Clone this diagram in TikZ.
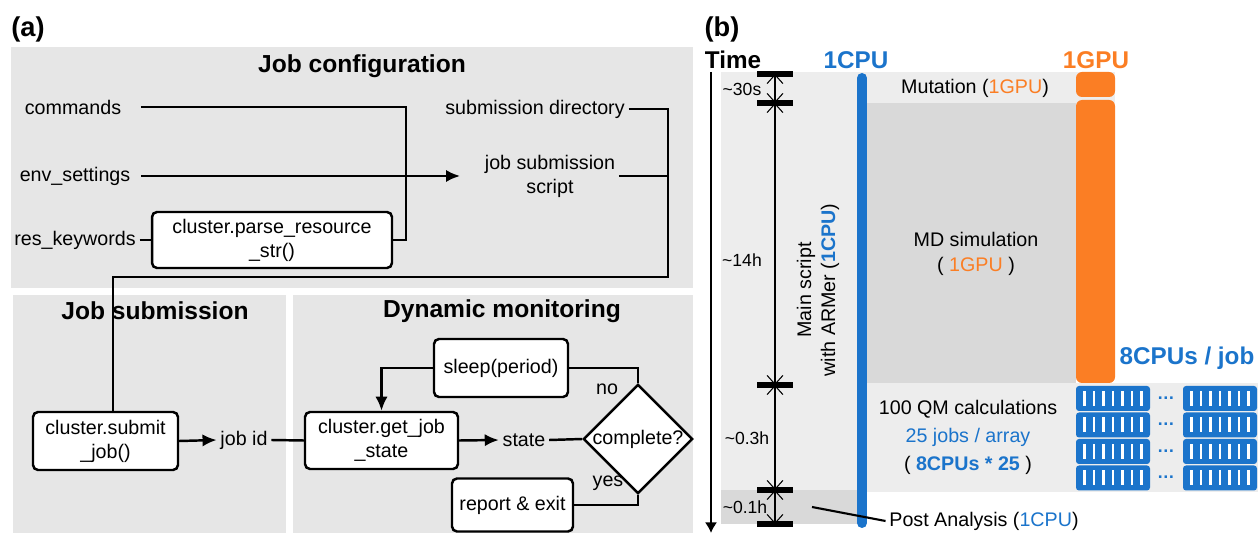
\documentclass[tikz,border=0pt]{standalone}
\usepackage{fontspec}
\setmainfont{Liberation Sans}
\usepackage{xcolor}
\usetikzlibrary{shapes.geometric,arrows.meta,positioning}

\definecolor{cpublue}{HTML}{1B74CB}
\definecolor{gpuorange}{HTML}{FB7E24}
\definecolor{panelgray}{HTML}{E6E6E6}
\definecolor{lightgray}{HTML}{EDEDED}
\definecolor{darkgray}{HTML}{D9D9D9}

\begin{document}
\begin{tikzpicture}[x=0.02cm, y=-0.02cm,
    lbl/.style={font=\fontsize{11.2}{13.6}\selectfont, align=center, inner sep=2pt},
    ttl/.style={font=\fontsize{14}{16}\selectfont\bfseries},
    hdr/.style={font=\fontsize{13.8}{16}\selectfont\bfseries},
    tag/.style={font=\fontsize{15.5}{18}\selectfont\bfseries},
    tm/.style={font=\fontsize{10}{12}\selectfont},
    box/.style={lbl, draw, line width=1.4pt, rounded corners=0.1cm, fill=white, inner sep=0pt},
    wire/.style={line width=1.4pt},
    arr/.style={wire, -{Latex[length=8pt,width=7pt]}},
    dim/.style={line width=0.6pt, {Straight Barb[length=5pt,width=9pt]}-{Straight Barb[length=5pt,width=9pt]}}
]
\useasboundingbox (0,0) rectangle (1258,533);

% (a) panels
\fill[panelgray] (11,47) rectangle (693,288);
\fill[panelgray] (13,295) rectangle (286,533);
\fill[panelgray] (293,295) rectangle (693,533);

\node[tag] at (28,29) {(a)};
\node[ttl] at (362,66) {Job configuration};
\node[ttl] at (155,311) {Job submission};
\node[ttl] at (502,311) {Dynamic monitoring};

% job configuration
\node[lbl] (cmd) at (73,107) {commands};
\node[lbl] (env) at (75,176) {env\_settings};
\node[lbl] (res) at (75,240) {res\_keywords};
\node[box, minimum width=4.8cm, minimum height=1.12cm] (parse) at (272,240)
    {cluster.parse\_resource\\\_str()};
\node[lbl] (subdir) at (535,109) {submission directory};
\node[lbl] (script) at (550,176) {job submission\\script};
\coordinate (mrg) at (406,176);
\coordinate (turn) at (668,277);

\draw[wire, shorten <=0.32cm] (cmd.east) -| (mrg);
\draw[wire] (parse.east) -| (mrg);
\draw[wire] (res.east) -- (parse.west);
\draw[arr, shorten <=0.14cm, shorten >=0.42cm] (env.east) -- (script.west);
\draw[wire] (script.east) -- (script.east -| turn);

% job submission
\node[box, minimum width=2.9cm, minimum height=1.16cm] (submit) at (105.5,441)
    {cluster.submit\\\_job()};
\node[lbl] (jobid) at (244,440) {job id};
\draw[wire] (subdir.east) -| (turn) -| ([xshift=0.15cm]submit.north);
\draw[arr] (submit.east) -- (jobid.west);

% dynamic monitoring
\node[box, minimum width=3.06cm, minimum height=1.14cm] (getstate) at (381.5,440.5)
    {cluster.get\_job\\\_state};
\node[lbl] (state) at (524,440) {state};
\node[lbl, draw, fill=white, line width=1.4pt, diamond, aspect=1, inner sep=0pt,
    minimum width=2.14cm, minimum height=2.08cm] (complete) at (638,439) {complete?};
\node[box, minimum width=2.68cm, minimum height=1.16cm] (sleep) at (501,368) {sleep(period)};
\node[box, minimum width=2.42cm, minimum height=1.06cm] (report) at (512.5,505) {report \& exit};
\node[lbl] at (607,389) {no};
\node[lbl] at (608,483) {yes};

\draw[wire] (jobid.east) -- (getstate.west);
\draw[arr] (getstate.east) -- (state.west);
\draw[wire] (state.east) -- (complete.west);
\draw[wire] (complete.north) |- (sleep.east);
\draw[arr] (sleep.west) -| (getstate.north);
\draw[wire] (complete.south) |- (report.east);

% (b) timeline
\fill[lightgray] (721,72) rectangle (1115,103);
\fill[lightgray] (721,103) rectangle (1076,492);
\fill[darkgray] (866,103) rectangle (1076,383);
\fill[lightgray] (1076,383) rectangle (1258,492);
\fill[darkgray] (721,490) rectangle (858,524);

\node[tag] at (722,29) {(b)};
\node[hdr] at (733,60) {Time};
\node[hdr, text=cpublue] at (856,60) {1CPU};
\node[hdr, text=gpuorange] at (1096,60) {1GPU};
\node[hdr, text=cpublue] at (1187,358) {8CPUs / job};

\coordinate (t0) at (711,72);
\coordinate (t1) at (711,533);
\draw[line width=1.2pt, -{Latex[length=6pt,width=7pt]}] (t0) -- (t1);

\foreach \i/\y in {1/74, 2/103, 3/385, 4/490, 5/524} {
    \draw[line width=0.12cm] (757,\y) -- (793,\y);
    \coordinate (m\i) at (775,\y);
}
\draw[dim] (m1) -- (m2);
\draw[dim] (m2) -- (m3);
\draw[dim] (m3) -- (m4);
\draw[dim] (m4) -- (m5);
\node[tm] at (742,89) {\textasciitilde30s};
\node[tm] at (742,260) {\textasciitilde14h};
\node[tm] at (747,438) {\textasciitilde0.3h};
\node[tm] at (745,507) {\textasciitilde0.1h};

\node[lbl, rotate=90] (mainscr) at (818,290)
    {Main script\\with ARMer (\textcolor{cpublue}{\bfseries 1CPU})};

\fill[gpuorange, rounded corners=0.12cm] (1076,72) rectangle (1115,97);
\fill[gpuorange, rounded corners=0.12cm] (1076,100) rectangle (1115,383);

\node[lbl] (mut) at (975,88) {Mutation (\textcolor{gpuorange}{1GPU})};
\node[lbl, font=\fontsize{11.2}{14.2}\selectfont] (md) at (976,253.5)
    {MD simulation\\( \textcolor{gpuorange}{1GPU} )};
\node[lbl, font=\fontsize{11.2}{15.9}\selectfont] (qm) at (968,437)
    {100 QM calculations\\\textcolor{cpublue}{25 jobs / array}\\( \textcolor{cpublue}{\bfseries 8CPUs * 25} )};

% 8-CPU job blocks
\foreach \r in {0,...,3} {
    \foreach \c in {1076,1183} {
        \fill[cpublue, rounded corners=0.06cm] (\c,{386+26.5*\r}) rectangle ({\c+74},{386+26.5*\r+25});
        \foreach \k in {0,...,6}
            \fill[white] ({\c+8.5+9.5*\k-1.2},{386+26.5*\r+5}) rectangle ({\c+8.5+9.5*\k+1.2},{386+26.5*\r+20});
    }
    \node[lbl, text=cpublue, font=\bfseries] at (1166,{398+26.5*\r}) {…};
}

\draw[line width=0.2cm, line cap=round, cpublue] (862,78) -- (862,523);

\node[lbl] (post) at (984,521) {Post Analysis (\textcolor{cpublue}{1CPU})};
\coordinate (pa) at (812,507);
\draw[line width=1.2pt] (pa) -- (post.west);
\end{tikzpicture}
\end{document}
